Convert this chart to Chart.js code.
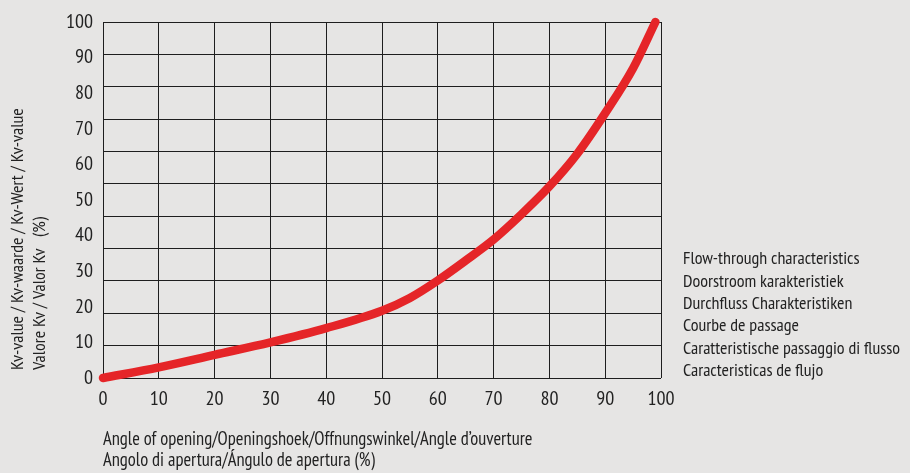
<!DOCTYPE html>
<html><head><meta charset="utf-8">
<script src="https://cdn.jsdelivr.net/npm/chart.js@4/dist/chart.umd.min.js"></script>
<style>html,body{margin:0;padding:0;background:#e6e5e4;}#wrap{width:910px;height:473px;position:relative}</style>
</head><body><div id="wrap"><canvas id="c" width="910" height="473"></canvas></div>
<script>
const openingAngle = [0, 10, 20, 30, 40, 50, 55, 60, 65, 70, 75, 80, 85, 90, 95, 99];
const kvValue = [0, 3.0, 6.5, 10.0, 14.0, 18.9, 22.5, 27.4, 33, 38.9, 46, 53.8, 63, 74.4, 87, 100];
const yTickLabels = [0, 10, 20, 30, 40, 50, 60, 70, 80, 90, 100];
const xTickLabels = [0, 10, 20, 30, 40, 50, 60, 70, 80, 90, 100];
const yTitle = ['Kv-value / Kv-waarde / Kv-Wert / Kv-value', 'Valore Kv / Valor Kv   (%)'];
const xTitle = ['Angle of opening/Openingshoek/Offnungswinkel/Angle d\u2019ouverture', 'Angolo di apertura/\u00c1ngulo de apertura (%)'];
const noteLines = ['Flow-through characteristics', 'Doorstroom karakteristiek', 'Durchfluss Charakteristiken', 'Courbe de passage', 'Caratteristische passaggio di flusso', 'Caracteristicas de flujo'];
const gridRows = 11;

const FONT = '"Liberation Sans Narrow", "PT Sans Narrow", "Arial Narrow", sans-serif';
const TXT = '#222222';

const textPlugin = {
  id: 'texts',
  afterDraw(chart) {
    const ctx = chart.ctx;
    ctx.save();
    ctx.fillStyle = TXT;
    ctx.font = '18px ' + FONT;
    ctx.textBaseline = 'middle';
    ctx.textAlign = 'left';
    // y title (rotated)
    ctx.save();
    ctx.translate(18, 370);
    ctx.rotate(-Math.PI / 2);
    ctx.fillText(yTitle[0], 0, 0);
    ctx.fillText(yTitle[1], 0, 22);
    ctx.restore();
    // notes
    noteLines.forEach((t, i) => ctx.fillText(t, 683, 259 + i * 22.4));
    // x title
    ctx.font = '18.5px ' + FONT;
    const left = chart.chartArea.left;
    ctx.fillText(xTitle[0], left, 440);
    ctx.fillText(xTitle[1], left, 461);
    ctx.restore();
  }
};

new Chart(document.getElementById('c'), {
  type: 'line',
  data: {
    datasets: [{
      data: openingAngle.map((x, i) => ({ x: x, y: kvValue[i] })),
      borderColor: '#e52528',
      borderWidth: 8.5,
      borderCapStyle: 'round',
      borderJoinStyle: 'round',
      pointRadius: 0,
      cubicInterpolationMode: 'monotone',
      fill: false,
      clip: false,
      yAxisID: 'y'
    }]
  },
  options: {
    responsive: false,
    animation: false,
    devicePixelRatio: 1,
    layout: { padding: { left: 0, top: 22, right: 249, bottom: 0 } },
    plugins: { legend: { display: false }, tooltip: { enabled: false } },
    scales: {
      x: {
        type: 'linear', min: 0, max: 100,
        afterBuildTicks(s) { s.ticks = xTickLabels.map(v => ({ value: v })); },
        afterFit(s) { s.height = 95; },
        grid: { color: '#1e1e1e', lineWidth: 1, drawTicks: false },
        border: { display: false },
        ticks: { padding: 9, color: TXT, font: { family: FONT, size: 20 }, maxRotation: 0 }
      },
      y: {
        type: 'linear', min: 0, max: 100, position: 'left',
        afterBuildTicks(s) { s.ticks = yTickLabels.map(v => ({ value: v })); },
        afterFit(s) { s.width = 103; },
        grid: { display: false, drawTicks: false },
        border: { display: false },
        ticks: { padding: 10, color: TXT, font: { family: FONT, size: 20 } }
      },
      yg: {
        type: 'linear', min: 0, max: gridRows, position: 'left',
        ticks: { display: false, stepSize: 1 },
        afterFit(s) { s.width = 0; },
        grid: { color: '#1e1e1e', lineWidth: 1, drawTicks: false },
        border: { display: false }
      }
    }
  },
  plugins: [textPlugin]
});
</script></body></html>
